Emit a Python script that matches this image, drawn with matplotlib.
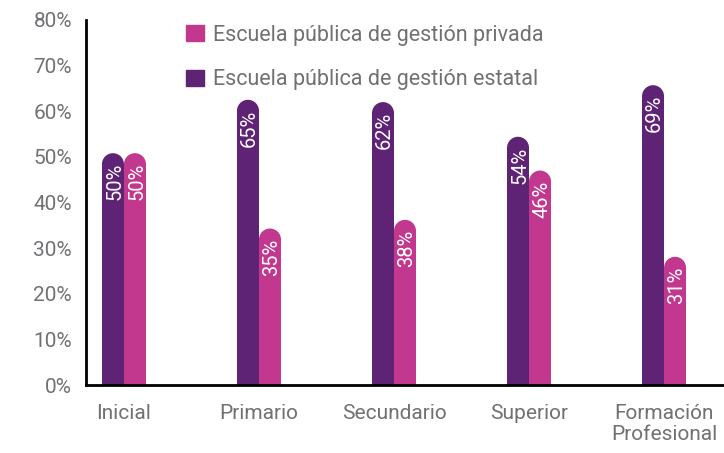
import numpy as np
import matplotlib.pyplot as plt
from matplotlib.patches import Ellipse, Patch

# ----------------------------------------------------------------------------
# Data
# ----------------------------------------------------------------------------
niveles = ["Inicial", "Primario", "Secundario", "Superior", "Formación\nProfesional"]

# bar heights as drawn (%)
estatal = [50.8, 62.5, 62.0, 54.4, 65.7]
privada = [50.8, 34.3, 36.2, 47.0, 28.1]

# printed labels
estatal_lbl = ["50%", "65%", "62%", "54%", "69%"]
privada_lbl = ["50%", "35%", "38%", "46%", "31%"]

yticks = [0, 10, 20, 30, 40, 50, 60, 70, 80]

# ----------------------------------------------------------------------------
# Style
# ----------------------------------------------------------------------------
plt.rcParams['font.family'] = ['Roboto', 'DejaVu Sans']
c_estatal = '#5f2376'
c_privada = '#c2388f'
c_text = '#707174'

fig = plt.figure(figsize=(7.24, 4.53), dpi=100)
ax = fig.add_axes([0.1188, 0.150, 0.8812, 0.806])

x = np.arange(len(niveles))
w = 0.163
xlim = (-0.281, 4.444)
ylim = (0, 80)
ax.set_xlim(*xlim)
ax.set_ylim(*ylim)

# radius of the rounded cap in data units (y), based on the axes aspect
bb = ax.get_position()
px_per_x = bb.width * 724 / (xlim[1] - xlim[0])
px_per_y = bb.height * 453 / (ylim[1] - ylim[0])
r_y = (w * px_per_x / 2) / px_per_y


def rounded_bars(xs, vals, color, labels):
    for xi, v, lab in zip(xs, vals, labels):
        ax.bar(xi, v - r_y, width=w, color=color, linewidth=0)
        ax.add_patch(Ellipse((xi, v - r_y), w, 2 * r_y, color=color, linewidth=0))
        ax.text(xi + 0.012, v - 0.9 * r_y, lab, rotation=90, ha='center', va='top',
                color='white', fontsize=14.5)


rounded_bars(x - w / 2, estatal, c_estatal, estatal_lbl)
rounded_bars(x + w / 2, privada, c_privada, privada_lbl)

# axes
for s in ['top', 'right']:
    ax.spines[s].set_visible(False)
ax.spines['left'].set_linewidth(2)
ax.spines['bottom'].set_linewidth(2)
ax.set_yticks(yticks)
ax.set_yticklabels([f"{t}%" for t in yticks])
ax.set_xticks(x)
ax.set_xticklabels(niveles, linespacing=1.1)
ax.tick_params(length=0, labelsize=15, colors=c_text, pad=10)
ax.tick_params(axis='x', pad=14)

handles = [Patch(color=c_privada), Patch(color=c_estatal)]
ax.legend(handles, ["Escuela pública de gestión privada", "Escuela pública de gestión estatal"],
          loc='upper left', bbox_to_anchor=(0.127, 1.04), frameon=False,
          handlelength=0.8, handleheight=0.8, handletextpad=0.45, labelspacing=1.1,
          fontsize=15.5, labelcolor=c_text)

fig.savefig('out.png', dpi=100)
